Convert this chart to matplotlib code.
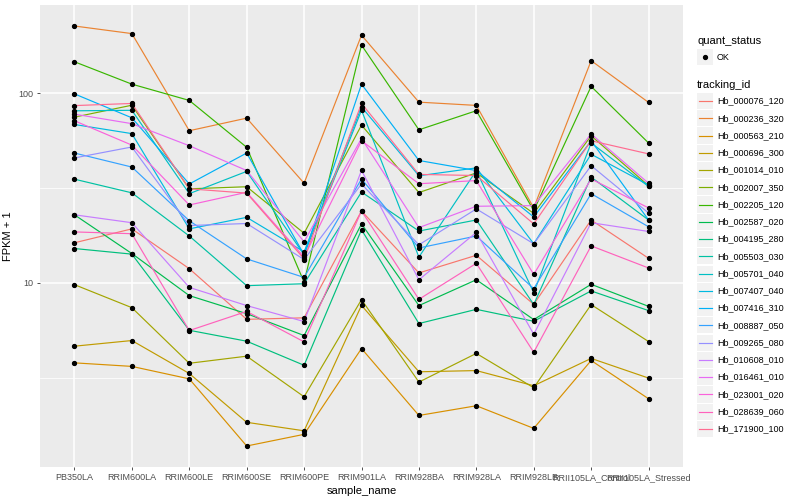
import matplotlib

matplotlib.use("Agg")
import matplotlib.pyplot as plt
import numpy as np
from matplotlib.patches import Rectangle
from matplotlib.ticker import FixedLocator, NullFormatter

plt.rcParams["font.family"] = ["Liberation Sans", "DejaVu Sans"]

samples = ["PB350LA", "RRIM600LA", "RRIM600LE", "RRIM600SE", "RRIM600PE", "RRIM901LA",
           "RRIM928BA", "RRIM928LA", "RRIM928LB", "RRII105LA_Control", "RRII105LA_Stressed"]

tracking_ids = ["Hb_000076_120", "Hb_000236_320", "Hb_000563_210", "Hb_000696_300",
                "Hb_001014_010", "Hb_002007_350", "Hb_002205_120", "Hb_002587_020",
                "Hb_004195_280", "Hb_005503_030", "Hb_005701_040", "Hb_007407_040",
                "Hb_007416_310", "Hb_008887_050", "Hb_009265_080", "Hb_010608_010",
                "Hb_016461_010", "Hb_023001_020", "Hb_028639_060", "Hb_171900_100"]

# FPKM + 1, one list per gene, in sample order
hb_000076_120 = [16.3, 19.3, 11.9, 6.43, 6.55, 24.0, 11.3, 14.0, 7.71, 21.5, 13.5]
hb_000236_320 = [227, 207, 63.6, 74.1, 33.6, 203, 90.0, 86.5, 24.9, 149, 89.7]
hb_000563_210 = [3.79, 3.63, 3.12, 1.38, 1.59, 4.51, 2.00, 2.25, 1.71, 3.90, 2.45]
hb_000696_300 = [4.64, 4.97, 3.33, 1.84, 1.66, 7.62, 3.40, 3.45, 2.87, 4.00, 3.15]
hb_001014_010 = [9.80, 7.41, 3.77, 4.11, 2.51, 8.17, 3.00, 4.25, 2.80, 7.69, 4.91]
hb_002007_350 = [75.0, 86.7, 31.4, 32.2, 18.3, 68.1, 30.0, 38.1, 23.3, 59.8, 32.6]
hb_002205_120 = [147, 112, 91.9, 52.0, 10.1, 180, 64.3, 81.1, 24.1, 109, 54.8]
hb_002587_020 = [22.9, 14.3, 8.58, 6.89, 5.28, 20.5, 7.60, 10.4, 6.41, 9.84, 7.53]
hb_004195_280 = [15.2, 14.2, 5.63, 4.93, 3.68, 19.1, 6.11, 7.26, 6.28, 9.08, 7.15]
hb_005503_030 = [35.3, 29.9, 17.7, 9.68, 9.91, 30.2, 18.8, 21.5, 7.70, 36.2, 21.5]
hb_005701_040 = [81.0, 81.5, 29.6, 38.8, 14.1, 81.6, 13.7, 39.2, 8.89, 54.8, 32.3]
hb_007407_040 = [68.6, 61.4, 19.3, 22.2, 14.6, 84.9, 36.8, 40.5, 16.1, 47.8, 32.9]
hb_007416_310 = [99.5, 74.4, 33.3, 48.5, 14.1, 112, 44.3, 39.2, 22.3, 56.3, 21.5]
hb_008887_050 = [48.5, 40.9, 21.3, 13.4, 10.7, 35.4, 15.3, 17.7, 9.33, 29.6, 19.8]
hb_009265_080 = [45.7, 52.2, 20.1, 20.6, 13.3, 33.3, 15.9, 24.6, 16.1, 41.6, 23.4]
hb_010608_010 = [22.9, 20.8, 9.48, 7.60, 6.26, 39.3, 10.4, 18.5, 5.36, 20.8, 18.7]
hb_016461_010 = [77.8, 69.3, 53.0, 39.2, 16.5, 57.9, 19.6, 25.4, 25.6, 61.1, 33.6]
hb_023001_020 = [71.8, 53.4, 25.8, 30.1, 13.7, 56.3, 33.4, 34.7, 11.1, 35.4, 24.9]
hb_028639_060 = [18.6, 18.2, 5.61, 7.08, 4.89, 24.0, 8.20, 12.7, 4.31, 15.7, 12.0]
hb_171900_100 = [86.3, 88.6, 31.4, 29.8, 13.4, 88.6, 37.4, 36.9, 20.5, 56.3, 48.0]

series = [hb_000076_120, hb_000236_320, hb_000563_210, hb_000696_300, hb_001014_010,
          hb_002007_350, hb_002205_120, hb_002587_020, hb_004195_280, hb_005503_030,
          hb_005701_040, hb_007407_040, hb_007416_310, hb_008887_050, hb_009265_080,
          hb_010608_010, hb_016461_010, hb_023001_020, hb_028639_060, hb_171900_100]

# ggplot2 default hue palette for 20 levels
colors = ["#F8766D", "#EA8331", "#D89000", "#C09B00", "#A3A500", "#7CAE00", "#39B600",
          "#00BB4E", "#00BF7D", "#00C1A3", "#00BFC4", "#00BAE0", "#00B0F6", "#35A2FF",
          "#9590FF", "#C77CFF", "#E76BF3", "#FA62DB", "#FF62BC", "#FF6C91"]

fig = plt.figure(figsize=(8, 5), dpi=100)
ax = fig.add_axes([40 / 800, 1 - 467 / 500, 643 / 800, 462 / 500])
ax.set_facecolor("#EBEBEB")
for s in ax.spines.values():
    s.set_visible(False)

x = np.arange(len(samples))
for vals, col in zip(series, colors):
    ax.plot(x, vals, color=col, lw=0.85, zorder=3)
for vals in series:
    ax.plot(x, vals, ls="none", marker="o", ms=2.8, color="black", zorder=4)

ax.set_yscale("log")
allv = np.log10(np.concatenate([np.asarray(v, float) for v in series]))
lo, hi = allv.min(), allv.max()
pad = 0.05 * (hi - lo)
ax.set_ylim(10 ** (lo - pad), 10 ** (hi + pad))
ax.set_xlim(-0.6, len(samples) - 0.4)

ax.yaxis.set_major_locator(FixedLocator([10, 100]))
ax.yaxis.set_minor_locator(FixedLocator([10 ** 0.5, 10 ** 1.5]))
ax.yaxis.set_minor_formatter(NullFormatter())
ax.set_yticklabels(["10", "100"])
ax.set_xticks(x)
ax.set_xticklabels(samples)

ax.grid(which="major", color="white", lw=1.1, zorder=0)
ax.grid(which="minor", axis="y", color="white", lw=0.55, zorder=0)
ax.set_axisbelow(True)
ax.tick_params(which="major", length=2.5, width=0.6, color="#333333", labelsize=6.5,
               labelcolor="#4D4D4D", pad=2)
ax.tick_params(which="minor", length=0)

ax.set_xlabel("sample_name", fontsize=8, labelpad=3)
ax.set_ylabel("FPKM + 1", fontsize=8, labelpad=4)

# legend drawn in pixel coordinates, ggplot style
leg = fig.add_axes([0, 0, 1, 1])
leg.set_xlim(0, 800)
leg.set_ylim(500, 0)
leg.axis("off")
leg.patch.set_alpha(0)

kx0, kw = 697, 16
leg.text(kx0, 40.5, "quant_status", fontsize=8, va="center", ha="left")
leg.add_patch(Rectangle((kx0, 57 - 8.3), kw, 16.6, fc="#F2F2F2", ec="none"))
leg.plot([kx0 + kw / 2], [57], marker="o", ms=2.8, color="black")
leg.text(717, 57, "OK", fontsize=6.5, va="center", ha="left")

leg.text(kx0, 84.5, "tracking_id", fontsize=8, va="center", ha="left")
step = 17.26
for i, (name, col) in enumerate(zip(tracking_ids, colors)):
    cy = 101 + i * step
    leg.add_patch(Rectangle((kx0, cy - 8.1), kw, 16.2, fc="#F2F2F2", ec="none"))
    leg.plot([kx0 + 1.5, kx0 + kw - 1.5], [cy, cy], color=col, lw=0.85)
    leg.text(717, cy, name, fontsize=6.5, va="center", ha="left")

fig.savefig("out.png", dpi=100)
